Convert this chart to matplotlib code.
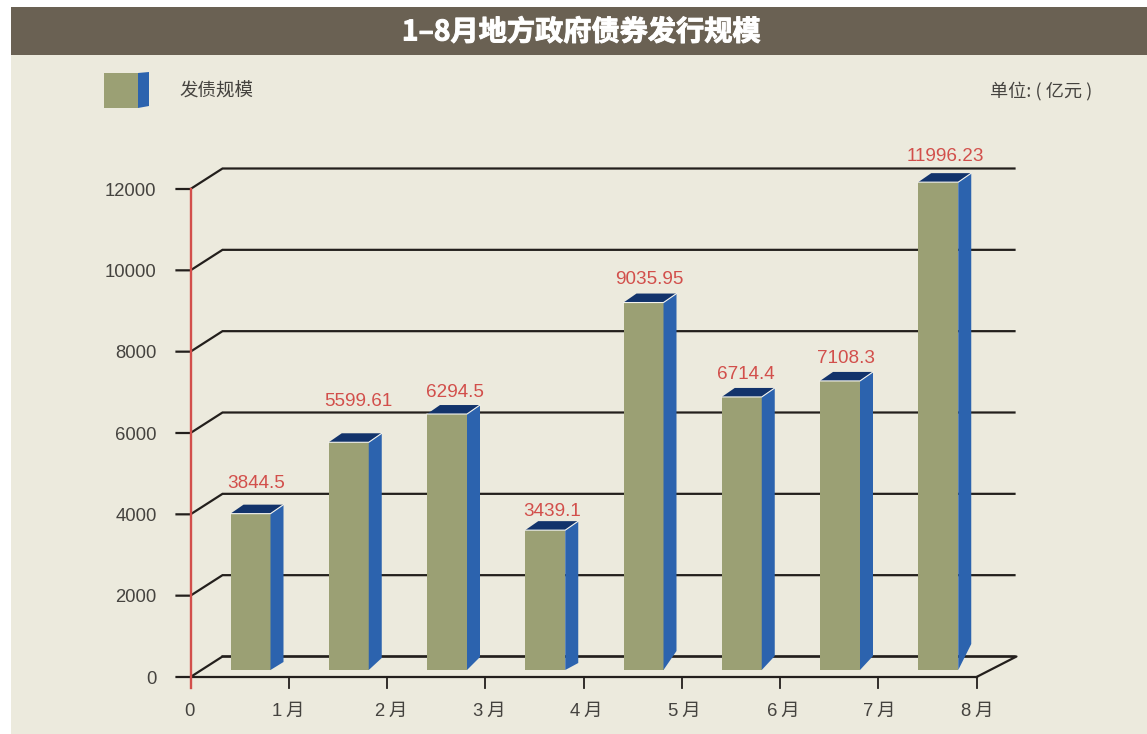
import matplotlib
matplotlib.use('Agg')
import matplotlib.pyplot as plt
import matplotlib.patheffects as pe
from matplotlib.patches import Rectangle, Polygon

plt.rcParams['font.family'] = ['Liberation Sans', 'Noto Sans CJK SC', 'DejaVu Sans']

months = ['1月', '2月', '3月', '4月', '5月', '6月', '7月', '8月']
values = [3844.5, 5599.61, 6294.5, 3439.1, 9035.95, 6714.4, 7108.3, 11996.23]
value_labels = ['3844.5', '5599.61', '6294.5', '3439.1', '9035.95', '6714.4', '7108.3', '11996.23']
y_ticks = [0, 2000, 4000, 6000, 8000, 10000, 12000]

W, H = 1147, 734
BG = '#eceadd'
BAND = '#6a6153'
FRONT = '#9ba074'
SIDE = '#2c63ae'
TOP = '#12336b'
RED = '#d24f4b'
LINE = '#231f1c'
TEXT = '#45433f'
CJK = ['Noto Sans CJK SC', 'DejaVu Sans']

fig = plt.figure(figsize=(W / 100, H / 100), dpi=100, facecolor='white')

# page layer in pixel coordinates
page = fig.add_axes([0, 0, 1, 1])
page.set_xlim(0, W)
page.set_ylim(H, 0)
page.axis('off')
page.add_patch(Rectangle((11, 7), W - 11, H - 7, fc=BG, ec='none'))
page.add_patch(Rectangle((11, 7), W - 11, 48, fc=BAND, ec='none'))
title = page.text(581.5, 32.5, '1–8月地方政府债券发行规模', color='white', fontsize=20.3, weight='black',
                  ha='center', va='center', family=CJK)
title.set_path_effects([pe.withStroke(linewidth=0.7, foreground='white')])

# legend
page.add_patch(Rectangle((104, 73), 34, 35, fc=FRONT, ec='none'))
page.add_patch(Polygon([(138, 73), (149, 72), (149, 106), (138, 108)], fc=SIDE, ec='none'))
page.text(179, 91.5, '发债规模', color=TEXT, fontsize=13.3, va='center', family=CJK)
page.text(990, 91, '单位: ( 亿元 )', color=TEXT, fontsize=13.1, va='center', ha='left', family=CJK)

# chart axes: x 0..8 spans 190..976 px, y 0..12000 spans 677..189 px
ax = fig.add_axes([190.5 / W, 1 - 677 / H, (976 - 190) / W, (677 - 189) / H])
ax.set_xlim(0, 8)
ax.set_ylim(0, 12000)
ax.axis('off')
ax.patch.set_alpha(0)

px_x = 8 / (976 - 190)
px_y = 12000 / (677 - 189)

# depth of the box walls
dx, dy = 32 * px_x, 20.5 * px_y
for v in y_ticks:
    ax.plot([-14 * px_x, 0, dx, (1014 - 190) * px_x], [v, v, v + dy, v + dy],
            color=LINE, lw=1.6, clip_on=False, solid_joinstyle='miter', zorder=2)
ax.plot([8, (1016 - 190) * px_x, dx], [0, dy, dy], color=LINE, lw=1.6, clip_on=False, zorder=2)
ax.plot([0, 8], [0, 0], color=LINE, lw=1.6, clip_on=False, zorder=2)
for i in range(1, 9):
    ax.plot([i, i], [0, -11 * px_y], color=LINE, lw=1.3, clip_on=False, zorder=2)
ax.plot([0, 0], [12000, -11 * px_y], color=RED, lw=1.7, clip_on=False, zorder=3)

# bars: front face sits 7 px above the axis, the side foot rises by a different amount per bar
bar_w = 40 * px_x
base = 7 * px_y
side_dx, side_dy = 13 * px_x, 9 * px_y
foot_rise = [8, 12, 13, 7, 19, 14, 14, 26]
# label offsets from the front-top centre of each bar, px
label_dx = [6, 10, 8, 7, 6, 4, 6, 7]
label_dy = [32, 43, 24, 21, 25, 24, 24, 28]
month_dx = [-1, 4, 4, 3, 3, 3, 1, 1]
for i, v in enumerate(values):
    left = i + 40 * px_x
    right = left + bar_w
    top = base + v
    ax.bar(left, v, width=bar_w, bottom=base, align='edge', color=FRONT, zorder=5, clip_on=False)
    ax.fill([right, right + side_dx, right + side_dx, right],
            [base, base + foot_rise[i] * px_y, top + side_dy, top],
            color=SIDE, lw=0, zorder=5, clip_on=False)
    ax.fill([left, right, right + side_dx, left + side_dx],
            [top, top, top + side_dy, top + side_dy],
            color=TOP, lw=0, zorder=5, clip_on=False)
    ax.plot([left, right, right + side_dx], [top, top, top + side_dy],
            color='#f4f4ee', lw=0.8, zorder=6, clip_on=False)
    ax.text(left + bar_w / 2 + label_dx[i] * px_x, top + label_dy[i] * px_y, value_labels[i], color=RED,
            fontsize=13.6, ha='center', va='center_baseline', zorder=7)

# axis text
for v in y_ticks:
    ax.text(-34 * px_x, v, str(v), color=TEXT, fontsize=13.3, ha='right', va='center_baseline', clip_on=False)
ax.text(-1 * px_x, -32 * px_y, '0', color=TEXT, fontsize=13.3, ha='center', va='center_baseline')
for i, m in enumerate(months):
    ax.text(i + 1 + month_dx[i] * px_x, -32 * px_y, m[0] + '\u2009' + m[1:], color=TEXT, fontsize=13.3,
            ha='center', va='center_baseline')

fig.savefig('out.png', dpi=100, facecolor='white')
